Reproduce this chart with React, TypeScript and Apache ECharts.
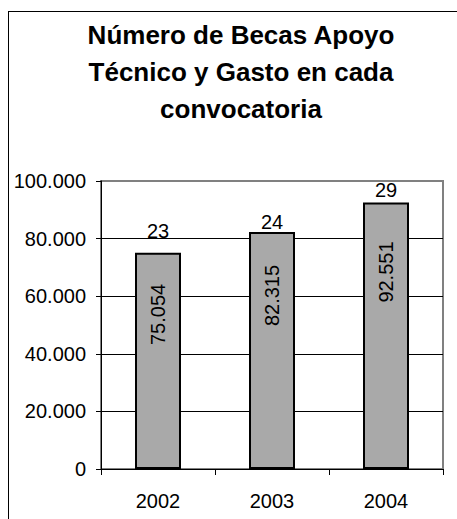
import React, { useEffect, useRef } from "react";
import * as echarts from "echarts";

const categories = ["2002", "2003", "2004"];
const gasto = [75054, 82315, 92551];
const becas = [23, 24, 29];
const yTicks = { min: 0, max: 100000, interval: 20000 };

// label placement tweaks (style, not data)
const topLabelGap = [12, 0, 2];
const insideLabelGap = [31, 33, 39];

const FONT = "'Liberation Sans', Arial, sans-serif";

function fmt(v: number): string {
  return String(Math.round(v)).replace(/\B(?=(\d{3})+(?!\d))/g, ".");
}

export default function App() {
  const ref = useRef<HTMLDivElement>(null);
  useEffect(() => {
    if (!ref.current) return;
    const chart = echarts.init(ref.current, null, { renderer: "svg" });
    chart.setOption({
      animation: false,
      backgroundColor: "#ffffff",
      textStyle: { fontFamily: FONT },
      title: {
        text: "Número de Becas Apoyo\nTécnico y Gasto en cada\nconvocatoria",
        left: 236,
        top: 11,
        textAlign: "center",
        textStyle: {
          fontFamily: FONT,
          fontSize: 26,
          fontWeight: "bold",
          lineHeight: 37,
          color: "#000",
        },
      },
      graphic: [
        { type: "line", shape: { x1: 8.5, y1: 11, x2: 8.5, y2: 519 }, style: { stroke: "#000", lineWidth: 1 } },
        { type: "line", shape: { x1: 8, y1: 11.5, x2: 457, y2: 11.5 }, style: { stroke: "#000", lineWidth: 1 } },
      ],
      grid: {
        left: 101,
        right: 14,
        top: 181,
        bottom: 50,
        show: true,
        borderColor: "#808080",
        borderWidth: 2,
        backgroundColor: "transparent",
      },
      xAxis: {
        type: "category",
        data: categories,
        axisLine: { lineStyle: { color: "#000", width: 1 } },
        axisTick: { show: true, length: 6, lineStyle: { color: "#000" } },
        axisLabel: { fontSize: 20, color: "#000", margin: 22, fontFamily: FONT },
        splitLine: { show: false },
      },
      yAxis: {
        type: "value",
        min: yTicks.min,
        max: yTicks.max,
        interval: yTicks.interval,
        axisLine: { show: true, lineStyle: { color: "#000", width: 1 } },
        axisTick: { show: true, length: 5, lineStyle: { color: "#000" } },
        axisLabel: {
          fontSize: 20,
          color: "#000",
          margin: 15,
          fontFamily: FONT,
          formatter: (v: number) => fmt(v),
        },
        splitLine: { show: true, showMaxLine: false, lineStyle: { color: "#000", width: 1 } },
      },
      series: [
        {
          type: "bar",
          barWidth: 46,
          data: gasto.map((v, i) => ({
            value: v,
            label: { distance: insideLabelGap[i] },
          })),
          itemStyle: { color: "#a9a9a9", borderColor: "#000", borderWidth: 2 },
          label: {
            show: true,
            position: "insideTop",
            rotate: 90,
            align: "right",
            verticalAlign: "middle",
            fontSize: 20,
            color: "#000",
            fontFamily: FONT,
            formatter: (p: any) => fmt(p.value),
          },
          z: 2,
        },
        {
          type: "bar",
          barWidth: 46,
          barGap: "-100%",
          silent: true,
          data: gasto.map((v, i) => ({
            value: v,
            label: { distance: topLabelGap[i] },
          })),
          itemStyle: { color: "transparent", borderWidth: 0 },
          label: {
            show: true,
            position: "top",
            fontSize: 20,
            color: "#000",
            fontFamily: FONT,
            formatter: (p: any) => String(becas[p.dataIndex]),
          },
          z: 3,
        },
      ],
    });
    return () => chart.dispose();
  }, []);
  return (
    <div
      ref={ref}
      style={{ position: "absolute", left: 0, top: 0, width: 457, height: 519 }}
    />
  );
}
